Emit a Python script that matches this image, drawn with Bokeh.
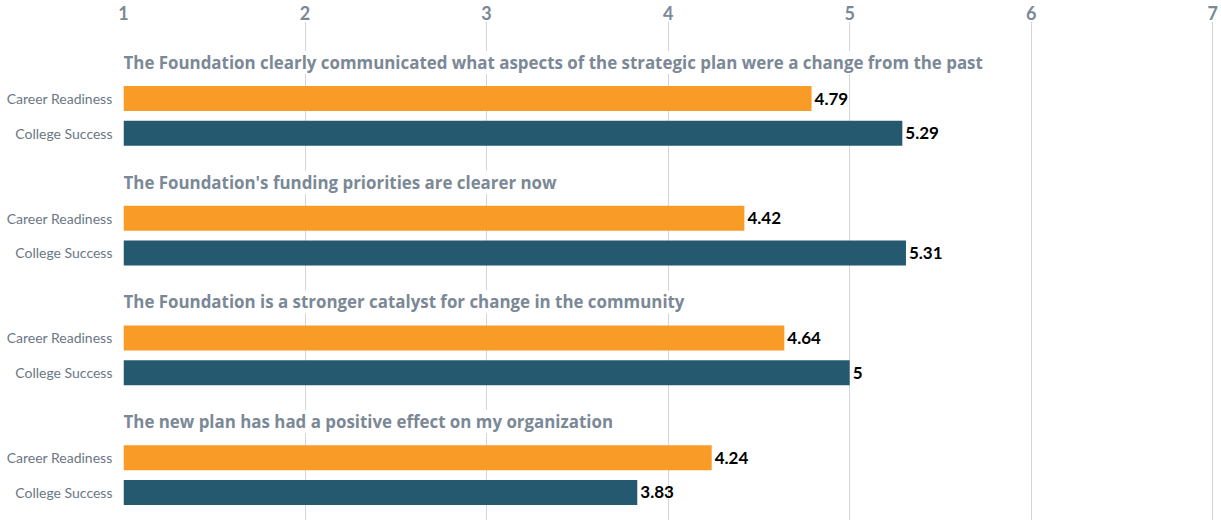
from bokeh.plotting import figure
from bokeh.models import ColumnDataSource, Range1d, FixedTicker
from bokeh.core.properties import value
from bokeh.embed import file_html
from bokeh.resources import INLINE

questions = [
    "The Foundation clearly communicated what aspects of the strategic plan were a change from the past",
    "The Foundation's funding priorities are clearer now",
    "The Foundation is a stronger catalyst for change in the community",
    "The new plan has had a positive effect on my organization",
]
series = ["Career Readiness", "College Success"]
career_readiness = [4.79, 4.42, 4.64, 4.24]
college_success = [5.29, 5.31, 5.00, 3.83]
value_labels_cr = ["4.79", "4.42", "4.64", "4.24"]
value_labels_cs = ["5.29", "5.31", "5", "3.83"]
x_ticks = [1, 2, 3, 4, 5, 6, 7]

ORANGE = "#F89C27"
TEAL = "#25596F"
TITLE_GRAY = "#7B8896"
LABEL_GRAY = "#6B7785"
GRID = "#D3D7DC"

GROUP_STEP = 3.45
TITLE_GAP = 1.04

title_y, cr_y, cs_y = [], [], []
for i in range(len(questions)):
    t = i * GROUP_STEP
    title_y.append(t)
    cr_y.append(t + TITLE_GAP)
    cs_y.append(t + TITLE_GAP + 1.0)

p = figure(width=1220, height=520, output_backend="svg", toolbar_location=None,
           x_range=Range1d(1, 7.004), y_range=Range1d(13.2, -1.18),
           x_axis_location="above", min_border_left=123, min_border_right=7,
           min_border_top=21, min_border_bottom=0)
p.outline_line_color = None
p.background_fill_color = "white"

p.xgrid.grid_line_color = GRID
p.xgrid.ticker = FixedTicker(ticks=x_ticks)
p.ygrid.grid_line_color = None

xa = p.xaxis[0]
xa.ticker = FixedTicker(ticks=x_ticks)
xa.axis_line_color = None
xa.major_tick_line_color = None
xa.minor_tick_line_color = None
xa.major_tick_out = 0
xa.major_tick_in = 0
xa.major_label_standoff = 2
xa.major_label_text_font = "Lato"
xa.major_label_text_font_style = "bold"
xa.major_label_text_font_size = "18px"
xa.major_label_text_color = TITLE_GRAY

ya = p.yaxis[0]
ya.ticker = FixedTicker(ticks=cr_y + cs_y)
overrides = {}
for y in cr_y:
    overrides[y] = series[0]
for y in cs_y:
    overrides[y] = series[1]
ya.major_label_overrides = overrides
ya.axis_line_color = None
ya.major_tick_line_color = None
ya.minor_tick_line_color = None
ya.major_tick_out = 0
ya.major_tick_in = 0
ya.major_label_standoff = 11
ya.major_label_text_font = "Lato"
ya.major_label_text_font_size = "14px"
ya.major_label_text_color = LABEL_GRAY

src_cr = ColumnDataSource(dict(y=cr_y, v=career_readiness, lab=value_labels_cr))
src_cs = ColumnDataSource(dict(y=cs_y, v=college_success, lab=value_labels_cs))
src_t = ColumnDataSource(dict(y=title_y, x=[1] * len(questions), q=questions))

p.hbar(y="y", left=1, right="v", height=0.72, source=src_cr, fill_color=ORANGE, line_color=None)
p.hbar(y="y", left=1, right="v", height=0.72, source=src_cs, fill_color=TEAL, line_color=None)

for src in (src_cr, src_cs):
    p.text(x="v", y="y", text="lab", source=src, x_offset=3, text_baseline="middle",
           text_align="left", text_font=value("Lato"), text_font_style="bold",
           text_font_size="17px", text_color="black")

p.text(x="x", y="y", text="q", source=src_t, text_baseline="middle", text_align="left",
       text_font=value("Open Sans"), text_font_style="bold", text_font_size="16.9px",
       text_color=TITLE_GRAY, background_fill_color="white")

open("out.html", "w").write(file_html(p, INLINE))
